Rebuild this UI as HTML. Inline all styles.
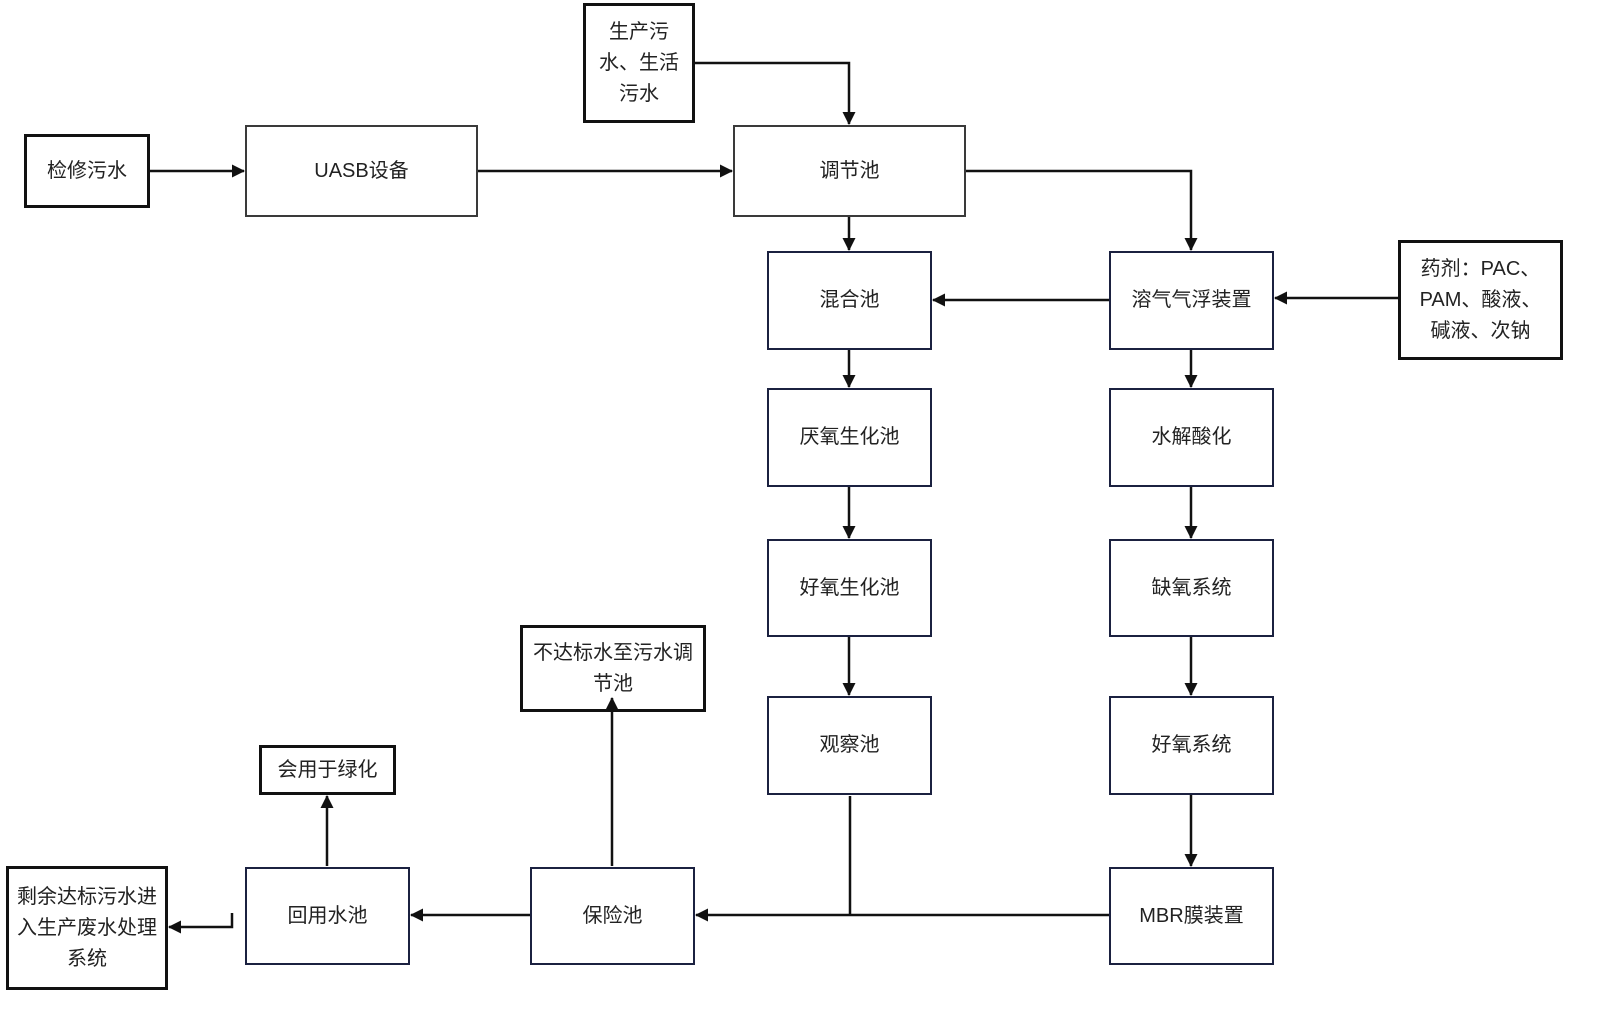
<!DOCTYPE html>
<html><head><meta charset="utf-8">
<style>
html,body{margin:0;padding:0;background:#fff;}
#c{position:relative;width:1600px;height:1015px;overflow:hidden;font-family:"Liberation Sans","Noto Sans CJK SC",sans-serif;color:#222;}
.b{position:absolute;box-sizing:border-box;display:flex;align-items:center;justify-content:center;text-align:center;font-size:20px;line-height:31px;background:#fff;z-index:1;}
.g{border:2.5px solid #3a3a3a;}
.n{border:2.5px solid #1b2140;}
.k{border:3px solid #111;}
svg{position:absolute;left:0;top:0;z-index:2;}
</style></head><body><div id="c">
<svg width="1600" height="1015">
<defs><marker id="a" markerWidth="13" markerHeight="13" refX="12" refY="6.5" orient="auto" markerUnits="userSpaceOnUse"><path d="M0,0 L13,6.5 L0,13 z" fill="#111"/></marker></defs>
<g stroke="#111" stroke-width="2.5" fill="none">
<line x1="150" y1="171" x2="244" y2="171" marker-end="url(#a)"/>
<line x1="478" y1="171" x2="732" y2="171" marker-end="url(#a)"/>
<polyline points="695,63 849,63 849,124" marker-end="url(#a)"/>
<line x1="849" y1="217" x2="849" y2="250" marker-end="url(#a)"/>
<polyline points="966,171 1191,171 1191,250" marker-end="url(#a)"/>
<line x1="1109" y1="300" x2="933" y2="300" marker-end="url(#a)"/>
<line x1="1398" y1="298" x2="1275" y2="298" marker-end="url(#a)"/>
<line x1="849" y1="350" x2="849" y2="387" marker-end="url(#a)"/>
<line x1="1191" y1="350" x2="1191" y2="387" marker-end="url(#a)"/>
<line x1="849" y1="487" x2="849" y2="538" marker-end="url(#a)"/>
<line x1="1191" y1="487" x2="1191" y2="538" marker-end="url(#a)"/>
<line x1="849" y1="637" x2="849" y2="695" marker-end="url(#a)"/>
<line x1="1191" y1="637" x2="1191" y2="695" marker-end="url(#a)"/>
<line x1="1191" y1="795" x2="1191" y2="866" marker-end="url(#a)"/>
<line x1="850" y1="796" x2="850" y2="915"/>
<line x1="1109" y1="915" x2="696" y2="915" marker-end="url(#a)"/>
<line x1="530" y1="915" x2="411" y2="915" marker-end="url(#a)"/>
<line x1="612" y1="866" x2="612" y2="698" marker-end="url(#a)"/>
<line x1="327" y1="866" x2="327" y2="796" marker-end="url(#a)"/>
<polyline points="232,913 232,927 169,927" marker-end="url(#a)"/>
</g>
</svg>
<div class="b k" style="left:24px;top:134px;width:126px;height:74px;">检修污水</div>
<div class="b g" style="left:245px;top:125px;width:233px;height:92px;">UASB设备</div>
<div class="b k" style="left:583px;top:3px;width:112px;height:120px;">生产污<br>水、生活<br>污水</div>
<div class="b g" style="left:733px;top:125px;width:233px;height:92px;">调节池</div>
<div class="b n" style="left:767px;top:251px;width:165px;height:99px;">混合池</div>
<div class="b n" style="left:1109px;top:251px;width:165px;height:99px;">溶气气浮装置</div>
<div class="b k" style="left:1398px;top:240px;width:165px;height:120px;">药剂：PAC、<br>PAM、酸液、<br>碱液、次钠</div>
<div class="b n" style="left:767px;top:388px;width:165px;height:99px;">厌氧生化池</div>
<div class="b n" style="left:1109px;top:388px;width:165px;height:99px;">水解酸化</div>
<div class="b n" style="left:767px;top:539px;width:165px;height:98px;">好氧生化池</div>
<div class="b n" style="left:1109px;top:539px;width:165px;height:98px;">缺氧系统</div>
<div class="b n" style="left:767px;top:696px;width:165px;height:99px;">观察池</div>
<div class="b n" style="left:1109px;top:696px;width:165px;height:99px;">好氧系统</div>
<div class="b n" style="left:1109px;top:867px;width:165px;height:98px;">MBR膜装置</div>
<div class="b n" style="left:530px;top:867px;width:165px;height:98px;">保险池</div>
<div class="b n" style="left:245px;top:867px;width:165px;height:98px;">回用水池</div>
<div class="b k" style="left:6px;top:866px;width:162px;height:124px;">剩余达标污水进<br>入生产废水处理<br>系统</div>
<div class="b k" style="left:259px;top:745px;width:137px;height:50px;">会用于绿化</div>
<div class="b k" style="left:520px;top:625px;width:186px;height:87px;">不达标水至污水调<br>节池</div>
</div></body></html>
